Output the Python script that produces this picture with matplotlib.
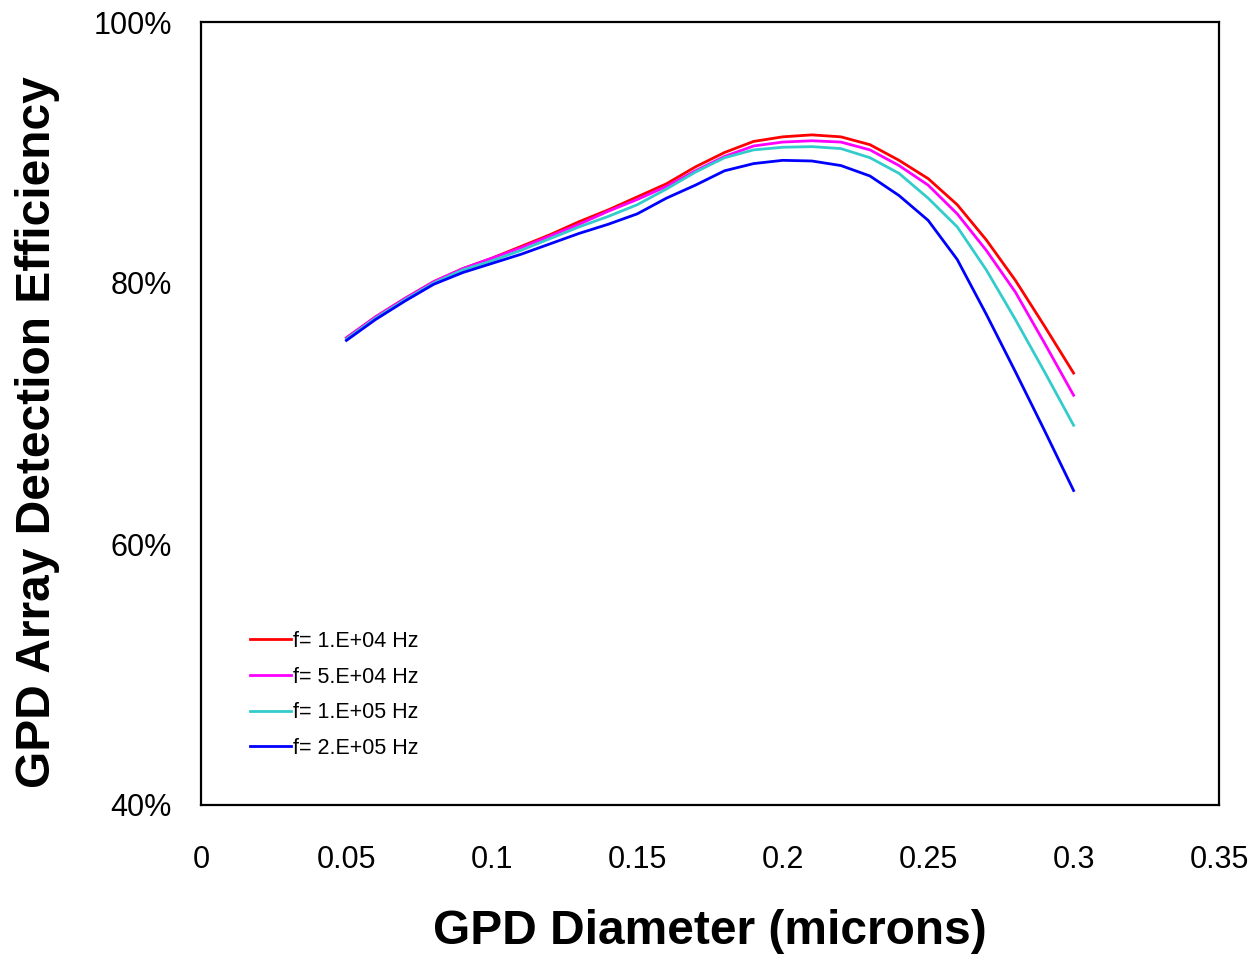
import matplotlib
matplotlib.use("Agg")
import matplotlib.pyplot as plt
from matplotlib.ticker import FuncFormatter

plt.rcParams["font.family"] = ["Liberation Sans", "DejaVu Sans"]

# diameter (microns)
diameter = [0.05, 0.06, 0.07, 0.08, 0.09, 0.10, 0.11, 0.12, 0.13, 0.14, 0.15, 0.16, 0.17,
            0.18, 0.19, 0.20, 0.21, 0.22, 0.23, 0.24, 0.25, 0.26, 0.27, 0.28, 0.29, 0.30]

# detection efficiency (%)
eff_1e4 = [75.8, 77.4, 78.8, 80.1, 81.1, 81.9, 82.8, 83.7, 84.7, 85.6, 86.6, 87.6, 88.9,
           90.0, 90.85, 91.2, 91.35, 91.2, 90.6, 89.4, 88.0, 86.0, 83.3, 80.2, 76.7, 73.1]
eff_5e4 = [75.8, 77.4, 78.8, 80.1, 81.1, 81.9, 82.7, 83.6, 84.5, 85.5, 86.4, 87.4, 88.6,
           89.7, 90.5, 90.8, 90.9, 90.8, 90.2, 89.0, 87.5, 85.3, 82.5, 79.3, 75.4, 71.4]
eff_1e5 = [75.7, 77.3, 78.7, 80.0, 81.0, 81.7, 82.5, 83.4, 84.3, 85.1, 86.0, 87.2, 88.5,
           89.6, 90.2, 90.4, 90.45, 90.3, 89.6, 88.4, 86.5, 84.3, 81.0, 77.2, 73.2, 69.1]
eff_2e5 = [75.6, 77.2, 78.6, 79.9, 80.8, 81.5, 82.2, 83.0, 83.8, 84.5, 85.3, 86.5, 87.5,
           88.6, 89.15, 89.4, 89.35, 89.0, 88.2, 86.7, 84.8, 81.8, 77.6, 73.2, 68.7, 64.1]

labels = ["f= 1.E+04 Hz", "f= 5.E+04 Hz", "f= 1.E+05 Hz", "f= 2.E+05 Hz"]
colors = ["#ff0000", "#ff00ff", "#33cccc", "#0000ff"]

W, H = 1258, 959
fig = plt.figure(figsize=(W / 100, H / 100), dpi=100)
ax = fig.add_axes([201 / W, 1 - 805 / H, (1219 - 201) / W, (805 - 22) / H])

for y, lab, c in zip([eff_1e4, eff_5e4, eff_1e5, eff_2e5], labels, colors):
    ax.plot(diameter, y, color=c, linewidth=2, label=lab)

ax.set_xlim(0, 0.35)
ax.set_ylim(40, 100)
ax.set_xticks([0, 0.05, 0.1, 0.15, 0.2, 0.25, 0.3, 0.35])
ax.set_xticklabels(["0", "0.05", "0.1", "0.15", "0.2", "0.25", "0.3", "0.35"])
ax.set_yticks([40, 60, 80, 100])
ax.yaxis.set_major_formatter(FuncFormatter(lambda v, p: f"{v:.0f}%"))
ax.tick_params(length=0, labelsize=22)
ax.tick_params(axis="x", pad=29)
ax.tick_params(axis="y", pad=21)
for s in ax.spines.values():
    s.set_linewidth(1.6)

fig.text(710 / W, 1 - 932 / H, "GPD Diameter (microns)", ha="center", va="center",
         fontsize=34.5, fontweight="bold")
fig.text(38 / W, 1 - 432 / H, "GPD Array Detection Efficiency", ha="center", va="center",
         rotation=90, fontsize=34.5, fontweight="bold")

ax.legend(loc="upper left", bbox_to_anchor=(250 / W, 1 - 631 / H),
          bbox_transform=fig.transFigure, frameon=False, fontsize=15.5,
          handlelength=1.9, handletextpad=0.12, labelspacing=0.68,
          borderpad=0, borderaxespad=0)

fig.savefig("out.png", dpi=100)
